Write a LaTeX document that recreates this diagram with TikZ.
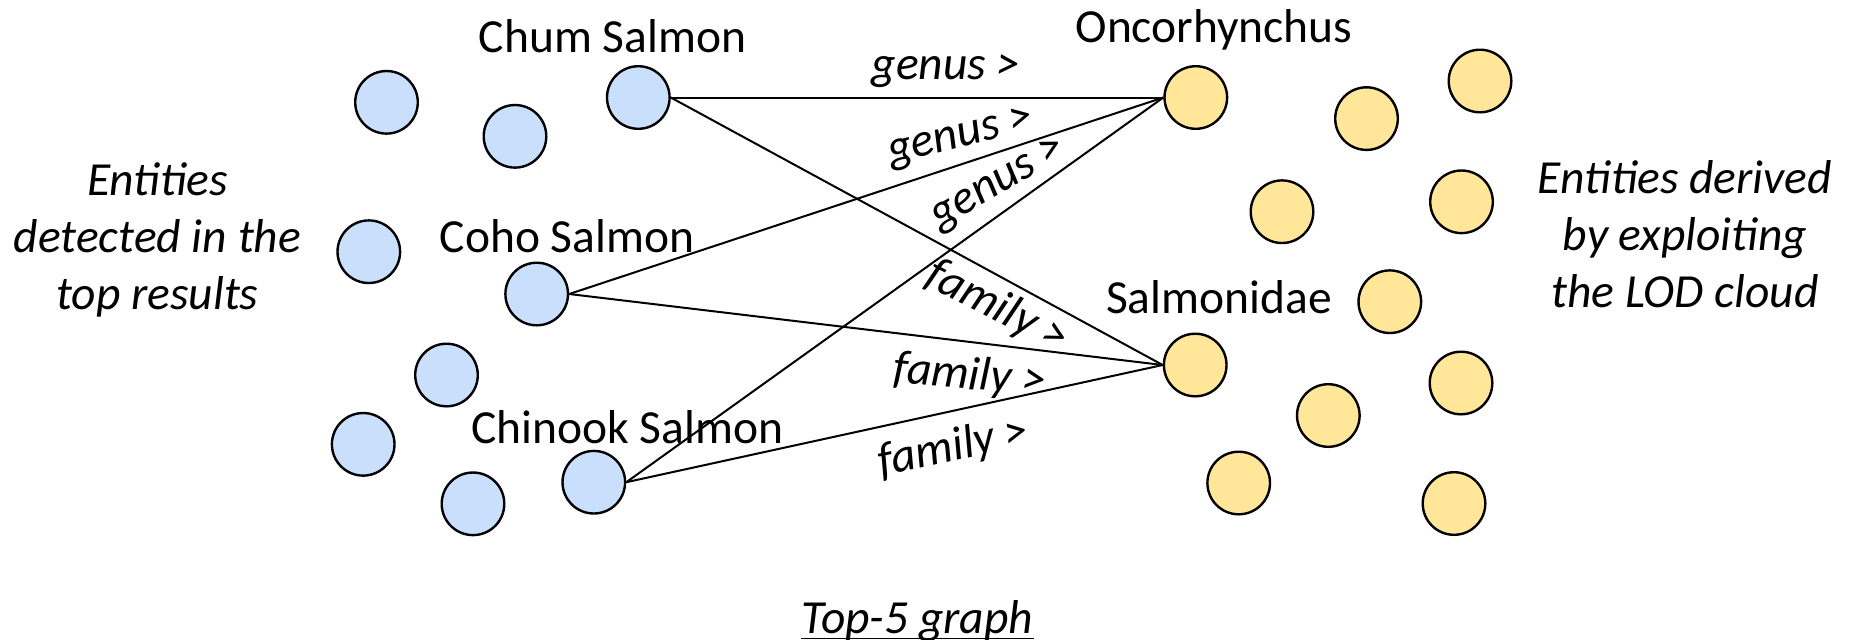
\documentclass[tikz,border=0pt]{standalone}
\usepackage{fontspec}
\setmainfont{Carlito}
\definecolor{entblue}{RGB}{201,223,252}
\definecolor{entgold}{RGB}{255,230,153}
\begin{document}
\begin{tikzpicture}[x=0.5pt,y=-0.5pt,
  txt/.style={font=\fontsize{23.75pt}{28.5pt}\selectfont},
  ent/.style={circle, draw=black, line width=1.2pt, minimum size=31.3pt, inner sep=0pt},
  found/.style={ent, fill=entblue},
  derived/.style={ent, fill=entgold},
  entname/.style={txt, inner sep=0pt, anchor=base},
  link/.style={line width=1pt},
  rel/.style={font=\fontsize{23.75pt}{28.5pt}\selectfont\itshape},
  note/.style={rel, align=center, inner sep=0pt}
]
\useasboundingbox (0,0) rectangle (1850,639);

% entities detected in the top results
\node[found] (b1) at (386.5,102.3) {};
\node[found] (b2) at (515,136.3) {};
\node[found] (chum) at (638.3,97.5) {};
\node[found] (b3) at (368.8,251.7) {};
\node[found] (coho) at (536.7,294) {};
\node[found] (b4) at (446.5,375) {};
\node[found] (b5) at (363.2,444.3) {};
\node[found] (b6) at (473,503.8) {};
\node[found] (chinook) at (593.8,482.2) {};

% entities derived from the LOD cloud
\node[derived] (onco) at (1195.8,97.5) {};
\node[derived] (y1) at (1480,81) {};
\node[derived] (y2) at (1366.5,118.6) {};
\node[derived] (y3) at (1282,211.7) {};
\node[derived] (y4) at (1461.5,201.8) {};
\node[derived] (y5) at (1389.8,301.7) {};
\node[derived] (salm) at (1195.2,365) {};
\node[derived] (y6) at (1461,383) {};
\node[derived] (y7) at (1328.3,415.5) {};
\node[derived] (y8) at (1238.7,483) {};
\node[derived] (y9) at (1454,503.5) {};

% entity names
\node[entname] (chumname) at (612.5,52.3) {Chum Salmon};
\node[entname] (cohoname) at (567,252) {Coho Salmon};
\node[entname] (chinookname) at (627.5,443.3) {Chinook Salmon};
\node[entname] (onconame) at (1214,42.7) {Oncorhynchus};
\node[entname] (salmname) at (1219,313.3) {Salmonidae};

% relations
\draw[link] (chum.east) -- node[rel, pos=0.559, anchor=south, inner sep=4.5pt] (r1) {genus >} (onco.west);
\draw[link] (coho.east) -- node[rel, pos=0.67, anchor=south, rotate=14, inner sep=3.5pt] (r2) {genus >} (onco.west);
\draw[link] (chinook.east) -- node[rel, pos=0.718, anchor=south, rotate=30, inner sep=3.5pt] (r3) {genus >} (onco.west);
\draw[link] (chum.east) -- node[rel, pos=0.69, anchor=north, rotate=-27, inner sep=3.5pt] (r4) {family >} (salm.west);
\draw[link] (coho.east) -- node[rel, pos=0.68, anchor=north, rotate=-5, inner sep=6.5pt] (r5) {family >} (salm.west);
\draw[link] (chinook.east) -- node[rel, pos=0.596, anchor=north, rotate=12, inner sep=7.5pt] (r6) {family >} (salm.west);

% side notes
\node[note] (leftnote) at (157.5,240) {Entities\\detected in the\\top results};
\node[note] (rightnote) at (1685,234.5) {Entities derived\\by exploiting\\the LOD cloud};

% caption
\node[rel, inner sep=0pt, anchor=base] (caption) at (917.5,633.3) {Top-5 graph};
\draw[line width=0.8pt] ([yshift=-2.5pt]caption.base west) -- ([yshift=-2.5pt]caption.base east);
\end{tikzpicture}
\end{document}
